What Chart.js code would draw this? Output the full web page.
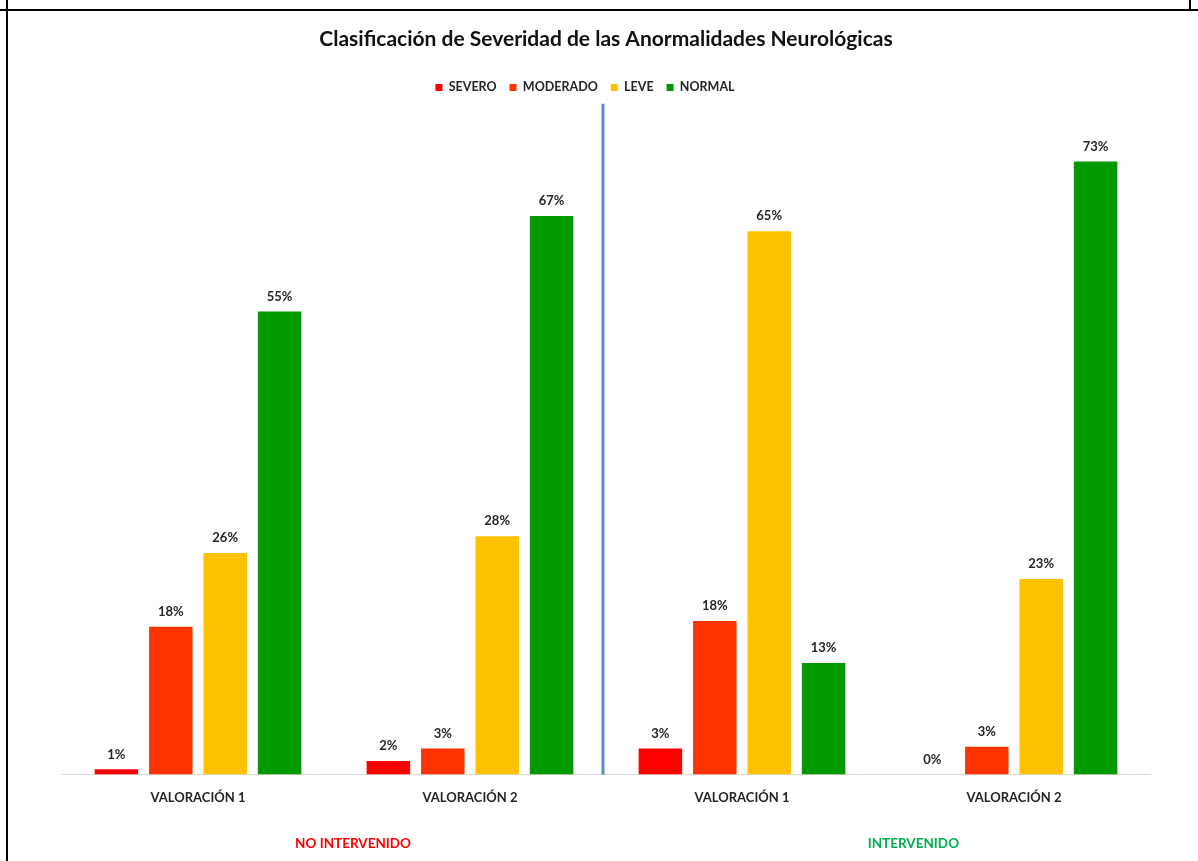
<!DOCTYPE html>
<html>
<head>
<meta charset="utf-8">
<script src="https://cdn.jsdelivr.net/npm/chart.js@4.4.1/dist/chart.umd.min.js"></script>
<style>
  html, body { margin: 0; padding: 0; background: #ffffff; }
  #wrap { position: relative; width: 1198px; height: 861px; overflow: hidden; }
  #c { position: absolute; left: 0; top: 0; }
  .ln { position: absolute; background: #000; }
</style>
</head>
<body>
<div id="wrap">
  <canvas id="c" width="1198" height="861"></canvas>
  <div class="ln" style="left:6px; top:0; width:2px; height:861px;"></div>
  <div class="ln" style="left:0; top:9px; width:1198px; height:2px;"></div>
  <div class="ln" style="left:1189px; top:0; width:2px; height:10px;"></div>
</div>
<script>
const categories = ['VALORACIÓN 1', 'VALORACIÓN 2', 'VALORACIÓN 1', 'VALORACIÓN 2'];
const groupLabels = ['NO INTERVENIDO', 'INTERVENIDO'];
const groupColors = ['#FF0000', '#00B050'];
const groupCenters = [0.57, 2.63];
const seriesNames = ['SEVERO', 'MODERADO', 'LEVE', 'NORMAL'];
const seriesColors = ['#FF0000', '#FF3300', '#FFC000', '#009900'];
const severo = [0.6, 1.6, 3.1, 0];
const moderado = [17.6, 3.1, 18.3, 3.3];
const leve = [26.4, 28.4, 64.8, 23.3];
const normal = [55.2, 66.6, 13.3, 73.1];
const yMax = 80;

const FONT = 'Lato, "Open Sans", sans-serif';
const TEXT = '#262626';

const overlay = {
  id: 'overlay',
  afterLayout(chart) {
    if (chart.legend) {
      chart.legend.left -= 21;
      chart.legend.right -= 21;
    }
  },
  afterDatasetsDraw(chart) {
    const ctx = chart.ctx;
    const xs = chart.scales.x;
    const area = chart.chartArea;
    ctx.save();
    const xd = (xs.getPixelForValue(1) + xs.getPixelForValue(2)) / 2 - 3;
    ctx.strokeStyle = '#5B8BC9';
    ctx.lineWidth = 3;
    ctx.beginPath();
    ctx.moveTo(xd, area.top);
    ctx.lineTo(xd, area.bottom);
    ctx.stroke();
    ctx.font = 'bold 13px ' + FONT;
    ctx.fillStyle = TEXT;
    ctx.textAlign = 'center';
    ctx.textBaseline = 'middle';
    chart.data.datasets.forEach((ds, di) => {
      const meta = chart.getDatasetMeta(di);
      meta.data.forEach((el, i) => {
        const v = ds.data[i];
        ctx.fillText(Math.round(v) + '%', el.x, el.y - 15);
      });
    });
    ctx.font = 'bold 13.5px ' + FONT;
    groupLabels.forEach((g, i) => {
      ctx.fillStyle = groupColors[i];
      ctx.fillText(g, xs.getPixelForValue(groupCenters[i]), area.bottom + 69);
    });
    ctx.restore();
  }
};

const series = [severo, moderado, leve, normal];
new Chart(document.getElementById('c'), {
  type: 'bar',
  data: {
    labels: categories,
    datasets: series.map((d, i) => ({
      label: seriesNames[i],
      data: d,
      backgroundColor: seriesColors[i],
      borderWidth: 0,
      categoryPercentage: 0.8,
      barPercentage: 0.8
    }))
  },
  options: {
    responsive: false,
    animation: false,
    layout: { padding: { left: 62, right: 48, top: 20, bottom: 39 } },
    plugins: {
      title: {
        display: true,
        text: 'Clasificación de Severidad de las Anormalidades Neurológicas',
        color: '#111111',
        font: { family: FONT, size: 21, weight: 'bold' },
        padding: { top: 7, bottom: 16 }
      },
      legend: {
        display: true,
        position: 'top',
        labels: {
          color: TEXT,
          font: { family: FONT, size: 12.5, weight: 'bold' },
          boxWidth: 7,
          boxHeight: 7,
          padding: 13
        }
      },
      tooltip: { enabled: false }
    },
    scales: {
      x: {
        grid: { display: false, drawTicks: false },
        border: { display: true, color: '#D9D9D9', width: 1 },
        ticks: { color: TEXT, font: { family: FONT, size: 13, weight: 'bold' }, padding: 16 }
      },
      y: {
        display: false,
        min: 0,
        max: yMax
      }
    }
  },
  plugins: [overlay]
});
</script>
</body>
</html>
